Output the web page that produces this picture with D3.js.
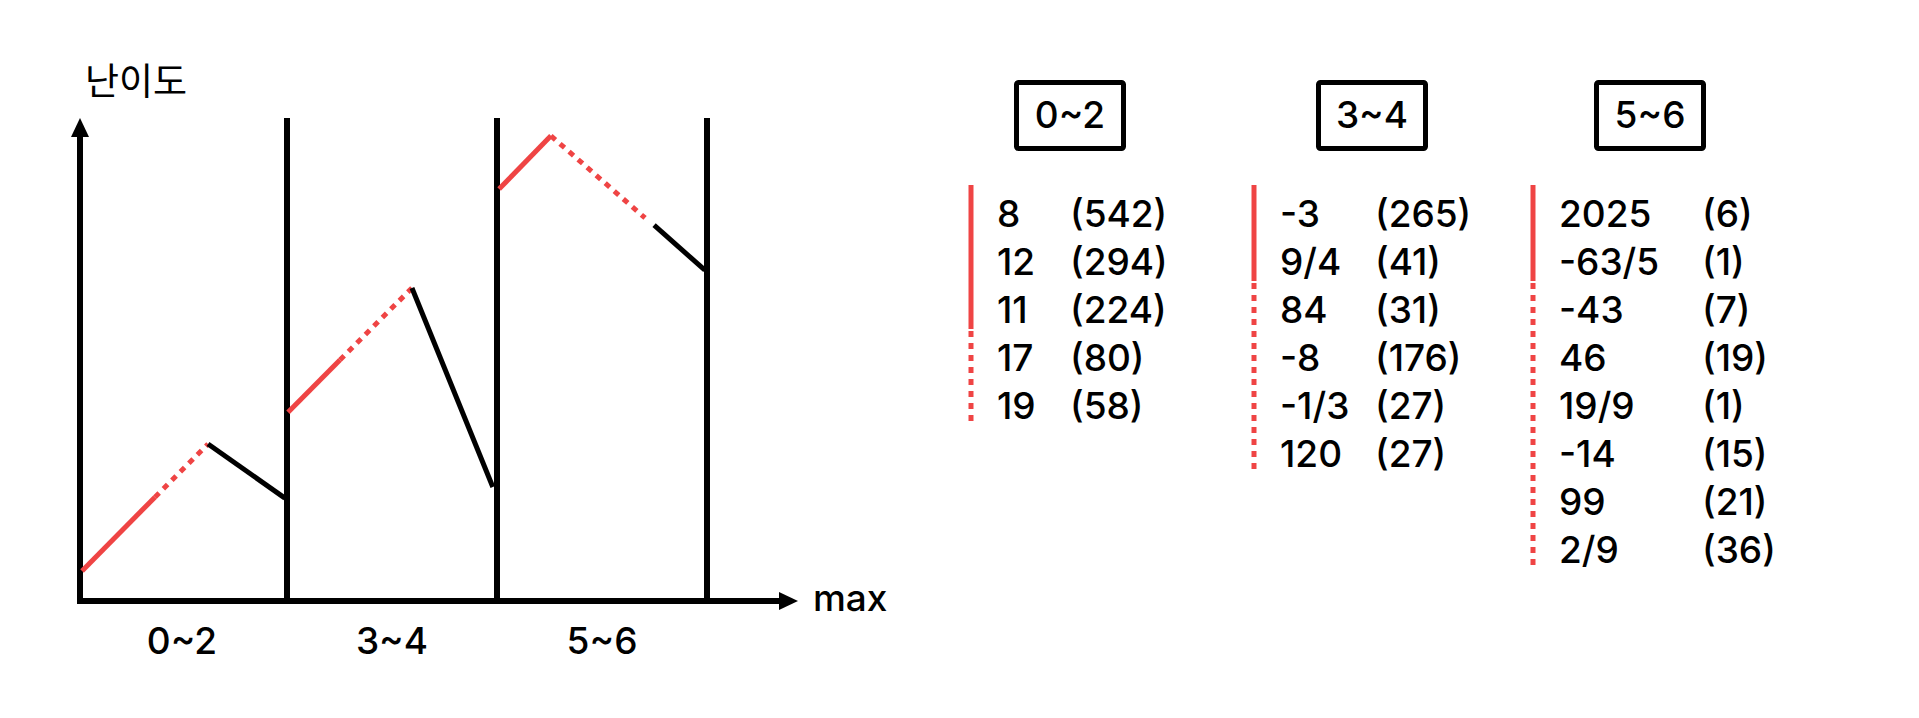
<!DOCTYPE html>
<html>
<head>
<meta charset="utf-8">
<script src="https://cdn.jsdelivr.net/npm/d3@7"></script>
<style>
  html, body { margin: 0; padding: 0; background: #fff; }
  svg { display: block; }
</style>
</head>
<body>
<div id="chart"></div>
<script>
// categories (max ranges)
const bands = ["0~2", "3~4", "5~6"];

// polyline per panel : [position inside panel (0..1), 난이도 (0..100)]
const panelPoints = [
  [[0.024, 6.2], [0.371, 21.5], [0.624, 32.5], [0.99, 21.3]],
  [[0.005, 39.1], [0.252, 49.9], [0.595, 64.8], [0.98, 23.6]],
  [[0.01, 85.3], [0.257, 96.3], [0.705, 79.3], [0.748, 77.8], [0.99, 68.5]]
];
// style of each segment between two points
const panelStyles = [
  ["solid", "dotted", "black"],
  ["solid", "dotted", "black"],
  ["solid", "dotted", "gap", "black"]
];

// lists on the right
const listValues = [
  ["8", "12", "11", "17", "19"],
  ["-3", "9/4", "84", "-8", "-1/3", "120"],
  ["2025", "-63/5", "-43", "46", "19/9", "-14", "99", "2/9"]
];
const listCounts = [
  [542, 294, 224, 80, 58],
  [265, 41, 31, 176, 27, 27],
  [6, 1, 7, 19, 1, 15, 21, 36]
];
const solidCounts = [3, 2, 2];

const yLabel = "난이도";
const xLabel = "max";

const width = 1919, height = 718;
const RED = "#ef4444";
const FONT = "Inter, 'Noto Sans CJK KR', sans-serif";

const svg = d3.select("#chart").append("svg")
    .attr("width", width)
    .attr("height", height)
    .attr("viewBox", [0, 0, width, height])
    .style("font-family", FONT)
    .style("font-weight", 500);

svg.append("rect").attr("width", width).attr("height", height).attr("fill", "#fff");

// scales
const y = d3.scaleLinear().domain([0, 100]).range([601, 118]);
const x = d3.scaleBand().domain(bands).range([77, 707]);
const xIn = d3.scaleLinear().domain([0, 1]).range([0, x.bandwidth()]);

const chart = svg.append("g");

// panel dividers
chart.selectAll("line.divider")
    .data(bands)
    .join("line")
    .attr("class", "divider")
    .attr("x1", d => x(d) + x.bandwidth())
    .attr("x2", d => x(d) + x.bandwidth())
    .attr("y1", y(100))
    .attr("y2", y(0))
    .attr("stroke", "#000")
    .attr("stroke-width", 6);

// axes lines + arrows
chart.append("line")
    .attr("x1", 80).attr("x2", 80)
    .attr("y1", y(0) + 3).attr("y2", 134)
    .attr("stroke", "#000").attr("stroke-width", 6);
chart.append("path")
    .attr("d", `M71,137 L80,118 L89,137 Z`)
    .attr("fill", "#000");

chart.append("line")
    .attr("x1", 77).attr("x2", 782)
    .attr("y1", y(0)).attr("y2", y(0))
    .attr("stroke", "#000").attr("stroke-width", 6);
chart.append("path")
    .attr("d", `M779,${y(0) - 9} L798,${y(0)} L779,${y(0) + 9} Z`)
    .attr("fill", "#000");

// category labels under the axis
const xAxis = chart.append("g")
    .attr("transform", `translate(0,${y(0)})`)
    .call(d3.axisBottom(x).tickSize(0).tickPadding(27));
xAxis.select(".domain").remove();
xAxis.selectAll("text")
    .attr("font-family", FONT)
    .attr("font-size", 37)
    .attr("font-weight", 500)
    .attr("fill", "#000");

chart.append("text")
    .attr("x", 85).attr("y", 95)
    .attr("font-size", 37)
    .attr("font-family", "'Noto Sans CJK KR', sans-serif")
    .attr("font-weight", 400)
    .text(yLabel);

chart.append("text")
    .attr("x", 813).attr("y", 611)
    .attr("font-size", 37)
    .text(xLabel);

// polylines
const line = d3.line().x(d => d[0]).y(d => d[1]);

bands.forEach((b, i) => {
    const pts = panelPoints[i].map(p => [x(b) + xIn(p[0]), y(p[1])]);
    const segs = panelStyles[i].map((s, k) => ({style: s, pts: [pts[k], pts[k + 1]]}))
        .filter(s => s.style !== "gap");
    chart.append("g").selectAll("path")
        .data(segs)
        .join("path")
        .attr("d", d => line(d.pts))
        .attr("fill", "none")
        .attr("stroke", d => d.style === "black" ? "#000" : RED)
        .attr("stroke-width", 5)
        .attr("stroke-dasharray", d => d.style === "dotted" ? "6 6" : null);
});

// right side lists
const colBarX = [971, 1254, 1533];
const colCountDx = [99, 121, 169];
const colBoxX = [1070, 1372, 1650];
const row = d3.scaleLinear().domain([0, 1]).range([227, 275]);

bands.forEach((b, i) => {
    const g = svg.append("g").attr("class", "list");

    // header box
    g.append("rect")
        .attr("x", colBoxX[i] - 53.5).attr("y", 82.5)
        .attr("width", 107).attr("height", 66)
        .attr("rx", 2)
        .attr("fill", "none")
        .attr("stroke", "#000")
        .attr("stroke-width", 5);
    g.append("text")
        .attr("x", colBoxX[i]).attr("y", 128)
        .attr("text-anchor", "middle")
        .attr("font-size", 37)
        .text(b);

    const n = listValues[i].length;
    const ns = solidCounts[i];
    // solid / dotted bar
    g.append("line")
        .attr("x1", colBarX[i]).attr("x2", colBarX[i])
        .attr("y1", row(0) - 42).attr("y2", row(ns) - 42)
        .attr("stroke", RED).attr("stroke-width", 5);
    g.append("line")
        .attr("x1", colBarX[i]).attr("x2", colBarX[i])
        .attr("y1", row(ns) - 40).attr("y2", row(n) - 40)
        .attr("stroke", RED).attr("stroke-width", 5)
        .attr("stroke-dasharray", "6 6");

    g.selectAll("text.val")
        .data(listValues[i])
        .join("text")
        .attr("class", "val")
        .attr("x", colBarX[i] + 26)
        .attr("y", (d, j) => row(j))
        .attr("font-size", 37)
        .text(d => d);

    g.selectAll("text.cnt")
        .data(listCounts[i])
        .join("text")
        .attr("class", "cnt")
        .attr("x", colBarX[i] + colCountDx[i])
        .attr("y", (d, j) => row(j))
        .attr("font-size", 37)
        .text(d => `(${d})`);
});
</script>
</body>
</html>
